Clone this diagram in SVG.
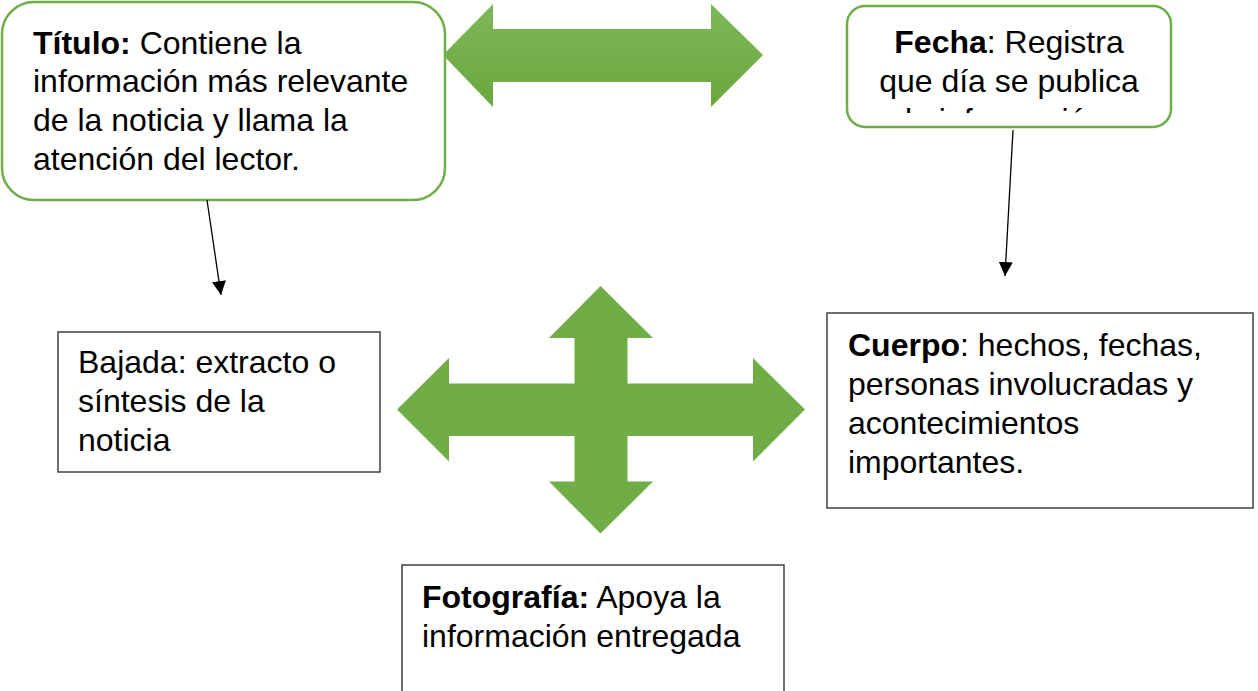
<svg xmlns="http://www.w3.org/2000/svg" width="1258" height="691" viewBox="0 0 1258 691">
<style>
.t{font-family:"Liberation Sans",Arial,sans-serif;font-size:32px;fill:#000}
.b{font-weight:bold}
.rbox{fill:#fff;stroke:#70AD47;stroke-width:2.5}
.sbox{fill:#fff;stroke:#404040;stroke-width:1.5}
.arrow{fill:url(#g)}
</style>
<defs>
<linearGradient id="g" x1="0" y1="0" x2="0" y2="1">
<stop offset="0" stop-color="#7DB857"/>
<stop offset="1" stop-color="#6AA73E"/>
</linearGradient>
<marker id="ah2" viewBox="0 0 14 14" refX="14" refY="7" markerWidth="14" markerHeight="14" markerUnits="userSpaceOnUse" orient="auto">
<path d="M0,0 L14,7 L0,14 z" fill="#000"/>
</marker>
<clipPath id="fclip"><rect x="847" y="6" width="324" height="107"/></clipPath>
</defs>

<g id="arrow-top">
<polygon class="arrow" points="443,55 493,4 493,29 711,29 711,4 763,55 711,107 711,82 493,82 493,107"/>
</g>

<g id="arrow-cross">
<polygon fill="#70AD47" points="600.5,286 653,338 627.5,338 627.5,383.5 753,383.5 753,358 805,409.5 753,461.5 753,436 627.5,436 627.5,481.5 653,481.5 600.5,533.5 549,481.5 574.5,481.5 574.5,436 449,436 449,461.5 397,409.5 449,358 449,383.5 574.5,383.5 574.5,338 549,338"/>
</g>

<g id="titulo">
<rect class="rbox" x="2" y="2" width="443" height="198" rx="32" ry="32"/>
<text class="t" x="33" y="54"><tspan class="b">Título:</tspan> Contiene la</text>
<text class="t" x="33" y="92">información más relevante</text>
<text class="t" x="33" y="131">de la noticia y llama la</text>
<text class="t" x="33" y="170">atención del lector.</text>
</g>

<g id="fecha">
<rect class="rbox" x="847" y="6" width="324" height="121" rx="18" ry="18"/>
<g clip-path="url(#fclip)">
<text class="t" x="1009" y="53" text-anchor="middle"><tspan class="b">Fecha</tspan>: Registra</text>
<text class="t" x="1009" y="92" text-anchor="middle">que día se publica</text>
<text class="t" x="1009" y="131" text-anchor="middle">la información.</text>
</g>
</g>

<g id="bajada">
<rect class="sbox" x="58" y="332" width="322" height="140"/>
<text class="t" x="78" y="373">Bajada: extracto o</text>
<text class="t" x="78" y="412">síntesis de la</text>
<text class="t" x="78" y="451">noticia</text>
</g>

<g id="cuerpo">
<rect class="sbox" x="827" y="313" width="426" height="195"/>
<text class="t" x="848" y="356"><tspan class="b">Cuerpo</tspan>: hechos, fechas,</text>
<text class="t" x="848" y="395">personas involucradas y</text>
<text class="t" x="848" y="434">acontecimientos</text>
<text class="t" x="848" y="473">importantes.</text>
</g>

<g id="fotografia">
<rect class="sbox" x="402" y="565" width="382" height="140"/>
<text class="t" x="422" y="608"><tspan class="b">Fotografía:</tspan> Apoya la</text>
<text class="t" x="422" y="647">información entregada</text>
</g>

<g id="connectors">
<line x1="207" y1="200" x2="221" y2="295" stroke="#000" stroke-width="1.3" marker-end="url(#ah2)"/>
<line x1="1013" y1="130" x2="1005" y2="276" stroke="#000" stroke-width="1.3" marker-end="url(#ah2)"/>
</g>
</svg>
